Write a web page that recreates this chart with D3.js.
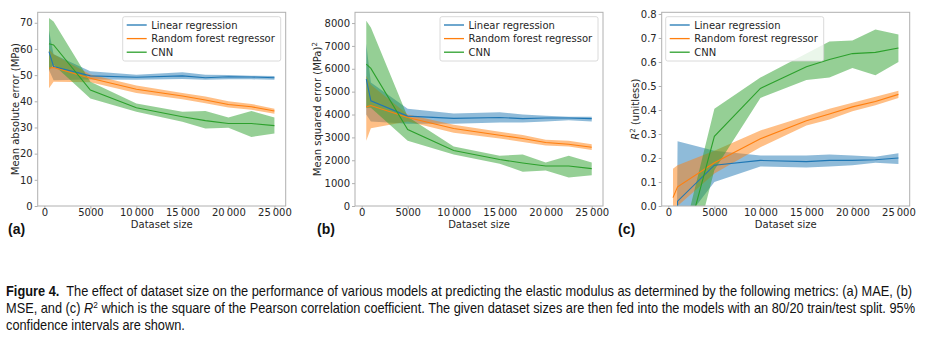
<!DOCTYPE html>
<html>
<head>
<meta charset="utf-8">
<script src="https://cdn.jsdelivr.net/npm/d3@7"></script>
<style>
  body { margin: 0; background: #fff; }
  svg { display: block; }
  .tick text { font-family: "DejaVu Sans", sans-serif; font-size: 10px; fill: #262626; }
  .tick line { stroke: #b0b0b0; }
  .domain { display: none; }
</style>
</head>
<body>
<svg id="fig" width="929" height="341"></svg>
<script>
// dataset sizes used for every model
var sizes = [500, 1000, 5000, 10000, 15000, 17500, 20000, 22500, 25000];
var seriesNames = ["Linear regression", "Random forest regressor", "CNN"];
var colors = ["#1f77b4", "#ff7f0e", "#2ca02c"];
var xTicks = [0, 5000, 10000, 15000, 20000, 25000];

// (a) mean absolute error
var maeLinear    = [59, 53.3, 49.7, 49.2, 49.7, 49.0, 49.4, 49.3, 49.0];
var maeLinearLo  = [52, 48, 48.3, 48.2, 48.5, 48.2, 48.4, 48.4, 48.2];
var maeLinearHi  = [67, 58, 51.5, 50.1, 51.1, 50.1, 50.0, 49.8, 49.7];
var maeForest    = [52.6, 52.9, 48.8, 44.6, 42.0, 40.5, 38.8, 37.9, 36.3];
var maeForestLo  = [45, 47.5, 47.3, 43.2, 40.8, 39.3, 37.6, 36.8, 35.2];
var maeForestHi  = [60, 58, 50.2, 46.0, 43.2, 41.8, 40.0, 39.0, 37.2];
var maeCnn       = [62, 61.5, 44.3, 37.5, 34.1, 32.6, 31.5, 31.5, 30.7];
var maeCnnLo     = [52, 54, 41.1, 36.0, 32.2, 29.6, 29.9, 26.4, 27.7];
var maeCnnHi     = [71.8, 70.5, 47.5, 39.2, 36.0, 36.3, 33.8, 36.3, 33.8];

// (b) mean squared error
var mseLinear    = [5550, 4600, 3930, 3830, 3870, 3820, 3850, 3850, 3820];
var mseLinearLo  = [4000, 3700, 3600, 3600, 3650, 3650, 3700, 3750, 3700];
var mseLinearHi  = [7100, 5400, 4250, 4050, 4100, 4000, 3950, 3900, 3900];
var mseForest    = [4335, 4394, 3870, 3387, 3095, 2950, 2774, 2700, 2570];
var mseForestLo  = [2850, 3400, 3700, 3200, 2950, 2800, 2650, 2600, 2450];
var mseForestHi  = [5700, 5300, 4000, 3550, 3250, 3100, 2900, 2850, 2700];
var mseCnn       = [6200, 6015, 3343, 2423, 2030, 1883, 1752, 1752, 1635];
var mseCnnLo     = [4300, 4300, 2850, 2250, 1850, 1500, 1550, 1250, 1350];
var mseCnnHi     = [8100, 7800, 3900, 2600, 2200, 2250, 1900, 2200, 1900];

// (c) R^2 (negative values fall below the axis and are clipped)
var r2Linear     = [-3, 0.02, 0.17, 0.19, 0.185, 0.19, 0.19, 0.193, 0.2];
var r2LinearLo   = [-4, -0.1, 0.1, 0.165, 0.16, 0.165, 0.17, 0.18, 0.175];
var r2LinearHi   = [-2, 0.27, 0.23, 0.21, 0.21, 0.215, 0.21, 0.205, 0.22];
var r2Forest     = [0.035, 0.08, 0.18, 0.28, 0.355, 0.383, 0.413, 0.435, 0.465];
var r2ForestLo   = [-0.1, 0.0, 0.135, 0.245, 0.335, 0.36, 0.395, 0.42, 0.45];
var r2ForestHi   = [0.155, 0.17, 0.23, 0.315, 0.375, 0.405, 0.43, 0.455, 0.48];
var r2Cnn        = [-2, -0.28, 0.29, 0.49, 0.58, 0.61, 0.635, 0.64, 0.658];
var r2CnnLo      = [-3, -0.45, 0.15, 0.45, 0.525, 0.535, 0.575, 0.545, 0.6];
var r2CnnHi      = [-1, -0.22, 0.405, 0.535, 0.635, 0.685, 0.69, 0.735, 0.715];

var svg = d3.select("#fig");
var fmtX = function(d) {
  return d >= 10000 ? d3.format(",")(d).replace(",", "\u2009") : String(d);
};

function panel(opt) {
  var left = opt.left, top = 12.3, w = 248, h = 193.7;
  var x = d3.scaleLinear().domain([-725, 26225]).range([left, left + w]);
  var y = d3.scaleLinear().domain(opt.yDomain).range([top + h, top]);
  var g = svg.append("g");

  var clipId = "clip" + opt.tag;
  svg.append("clipPath").attr("id", clipId)
    .append("rect").attr("x", left).attr("y", top).attr("width", w).attr("height", h);
  var plot = g.append("g").attr("clip-path", "url(#" + clipId + ")");

  opt.series.forEach(function(s, i) {
    var area = d3.area()
      .x(function(d, j) { return x(sizes[j]); })
      .y0(function(d, j) { return y(s.lo[j]); })
      .y1(function(d, j) { return y(s.hi[j]); });
    plot.append("path").attr("d", area(s.mean))
      .attr("fill", colors[i]).attr("fill-opacity", 0.5);
  });
  opt.series.forEach(function(s, i) {
    var line = d3.line()
      .x(function(d, j) { return x(sizes[j]); })
      .y(function(d) { return y(d); });
    plot.append("path").attr("d", line(s.mean))
      .attr("fill", "none").attr("stroke", colors[i]).attr("stroke-width", 1.1);
  });

  // frame
  g.append("rect").attr("x", left).attr("y", top).attr("width", w).attr("height", h)
    .attr("fill", "none").attr("stroke", "#b0b0b0").attr("stroke-width", 1);

  g.append("g").attr("transform", "translate(0," + (top + h) + ")")
    .call(d3.axisBottom(x).tickValues(xTicks).tickFormat(fmtX).tickSize(3).tickPadding(0));
  g.append("g").attr("transform", "translate(" + left + ",0)")
    .call(d3.axisLeft(y).tickValues(opt.yTicks).tickFormat(opt.yFormat).tickSize(3).tickPadding(2));

  g.append("text").attr("x", left + w / 2).attr("y", 227.5)
    .attr("text-anchor", "middle").attr("font-family", "DejaVu Sans").attr("font-size", 10)
    .attr("fill", "#262626").text("Dataset size");

  var yl = g.append("text")
    .attr("transform", "translate(" + (left - opt.yLabelGap) + "," + (top + h / 2) + ") rotate(-90)")
    .attr("text-anchor", "middle").attr("font-family", "DejaVu Sans").attr("font-size", 10)
    .attr("fill", "#262626");
  opt.yLabel(yl);

  g.append("text").attr("x", opt.tagX).attr("y", 234)
    .attr("font-family", "Liberation Sans, Arial, sans-serif").attr("font-weight", "bold")
    .attr("font-size", 14).attr("fill", "#111").text("(" + opt.tag + ")");

  // legend
  var lw = 158, lh = 44.3;
  var lx = opt.legendLeft ? left + 4 : left + w - 5 - lw;
  var ly = top + 4.4;
  var lg = g.append("g");
  lg.append("rect").attr("x", lx).attr("y", ly).attr("width", lw).attr("height", lh)
    .attr("rx", 2).attr("fill", "#fff").attr("fill-opacity", 0.8)
    .attr("stroke", "#d0d0d0").attr("stroke-width", 0.8);
  seriesNames.forEach(function(name, i) {
    var ry = ly + 8.3 + i * 13.6;
    lg.append("line").attr("x1", lx + 4).attr("x2", lx + 24).attr("y1", ry).attr("y2", ry)
      .attr("stroke", colors[i]).attr("stroke-width", 1.3);
    lg.append("text").attr("x", lx + 28.5).attr("y", ry + 3.6)
      .attr("font-family", "DejaVu Sans").attr("font-size", 10).attr("fill", "#262626")
      .text(name);
  });
}

panel({
  tag: "a", left: 37.7, tagX: 8, yDomain: [0, 74], yTicks: d3.range(0, 71, 10),
  yFormat: d3.format("d"), yLabelGap: 19,
  series: [
    { mean: maeLinear, lo: maeLinearLo, hi: maeLinearHi },
    { mean: maeForest, lo: maeForestLo, hi: maeForestHi },
    { mean: maeCnn, lo: maeCnnLo, hi: maeCnnHi }
  ],
  yLabel: function(t) { t.text("Mean absolute error (MPa)"); }
});

panel({
  tag: "b", left: 355, tagX: 317, yDomain: [0, 8470], yTicks: d3.range(0, 8001, 1000),
  yFormat: d3.format("d"), yLabelGap: 34.5,
  series: [
    { mean: mseLinear, lo: mseLinearLo, hi: mseLinearHi },
    { mean: mseForest, lo: mseForestLo, hi: mseForestHi },
    { mean: mseCnn, lo: mseCnnLo, hi: mseCnnHi }
  ],
  yLabel: function(t) {
    t.append("tspan").text("Mean squared error (MPa)");
    t.append("tspan").attr("font-size", 7).attr("dy", -4).text("2");
  }
});

panel({
  tag: "c", left: 661.7, tagX: 618, yDomain: [0, 0.807], yTicks: d3.range(0, 0.81, 0.1),
  yFormat: d3.format(".1f"), legendLeft: true, yLabelGap: 22.5,
  series: [
    { mean: r2Linear, lo: r2LinearLo, hi: r2LinearHi },
    { mean: r2Forest, lo: r2ForestLo, hi: r2ForestHi },
    { mean: r2Cnn, lo: r2CnnLo, hi: r2CnnHi }
  ],
  yLabel: function(t) {
    t.append("tspan").attr("font-style", "italic").text("R");
    t.append("tspan").attr("font-size", 7).attr("dy", -4).text("2");
    t.append("tspan").attr("dy", 4).text(" (unitless)");
  }
});

// caption: a condensed look, made by squeezing each line to its width in the figure
var capFont = "'Liberation Sans Narrow', 'Arial Narrow', 'Liberation Sans', sans-serif";
var cap = svg.append("g").attr("font-family", capFont).attr("font-size", 14).attr("fill", "#111");

function capLine(y, width, build) {
  var t = cap.append("text").attr("x", 0).attr("y", 0);
  build(t);
  var natural = t.node().getComputedTextLength();
  t.attr("transform", "translate(6," + y + ") scale(" + (width / natural) + ",1)");
}

capLine(296, 907, function(t) {
  t.append("tspan").attr("font-weight", "bold").text("Figure 4.");
  t.append("tspan").text("\u00a0 The effect of dataset size on the performance of various models at predicting the elastic modulus as determined by the following metrics: (a) MAE, (b)");
});
capLine(313, 910, function(t) {
  t.append("tspan").text("MSE, and (c) ");
  t.append("tspan").attr("font-style", "italic").text("R");
  t.append("tspan").attr("font-size", 9).attr("dy", -5).text("2");
  t.append("tspan").attr("dy", 5).text(" which is the square of the Pearson correlation coefficient. The given dataset sizes are then fed into the models with an 80/20 train/test split. 95%");
});
capLine(330, 179, function(t) {
  t.text("confidence intervals are shown.");
});
</script>
</body>
</html>
